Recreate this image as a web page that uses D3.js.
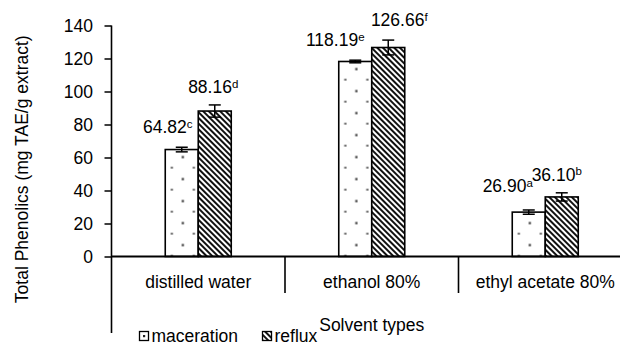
<!DOCTYPE html>
<html>
<head>
<meta charset="utf-8">
<script src="https://cdn.jsdelivr.net/npm/d3@7/dist/d3.min.js"></script>
<style>
  html, body { margin: 0; padding: 0; background: #fff; }
  svg { display: block; font-family: "Liberation Sans", Arial, sans-serif; }
</style>
</head>
<body>
<svg id="chart" width="620" height="344"></svg>
<script>
// Total phenolic content by solvent and extraction method
const categories = ["distilled water", "ethanol 80%", "ethyl acetate 80%"];
const series = ["maceration", "reflux"];
const maceration = [64.82, 118.19, 26.90];
const reflux = [88.16, 126.66, 36.10];
const macerationErr = [1.4, 0.8, 1.3];
const refluxErr = [3.7, 4.5, 2.5];
const macerationLetters = ["c", "e", "a"];
const refluxLetters = ["d", "f", "b"];
const yTicks = [0, 20, 40, 60, 80, 100, 120, 140];
const yTitle = "Total Phenolics (mg TAE/g extract)";
const xTitle = "Solvent types";

// Hand-placed label offsets (px) from each bar's centre / top
const labelOffsets = {
  maceration: [[-14, -16.5], [-20, -15], [-21, -20]],
  reflux: [[-1.5, -18], [11, -21.5], [-5, -16]]
};

const svg = d3.select("#chart");
const FONT = 17.5;
const y0 = 256.5;

const y = d3.scaleLinear().domain([0, 140]).range([y0, 25.5]);
const x0 = d3.scaleBand().domain(categories).range([111.5, 632]).paddingInner(0).paddingOuter(0);
const groupW = 66;
const x1 = d3.scaleBand().domain(series).range([0, groupW]);

const rows = categories.map((c, i) => ({
  cat: c,
  bars: [
    { s: "maceration", v: maceration[i], e: macerationErr[i], sup: macerationLetters[i], off: labelOffsets.maceration[i] },
    { s: "reflux", v: reflux[i], e: refluxErr[i], sup: refluxLetters[i], off: labelOffsets.reflux[i] }
  ]
}));
const barLeft = (c, s) => x0(c) + (x0.bandwidth() - groupW) / 2 + x1(s);

// Patterns
const defs = svg.append("defs");
// dotted fill, anchored to each bar's left edge and the baseline
rows.forEach((r, i) => {
  const p = defs.append("pattern")
    .attr("id", "dots" + i)
    .attr("patternUnits", "userSpaceOnUse")
    .attr("x", barLeft(r.cat, "maceration"))
    .attr("y", y0)
    .attr("width", 22).attr("height", 22);
  p.append("rect").attr("width", 22).attr("height", 22).attr("fill", "#fff");
  [[5.5, 20.5], [16.5, 9.5]].forEach(([dx, dy]) => {
    p.append("rect").attr("x", dx).attr("y", dy).attr("width", 2.2).attr("height", 2.2).attr("fill", "#333");
  });
});
const hatch = defs.append("pattern")
  .attr("id", "hatch")
  .attr("patternUnits", "userSpaceOnUse")
  .attr("width", 4).attr("height", 4)
  .attr("patternTransform", "rotate(-45)");
hatch.append("rect").attr("width", 4).attr("height", 4).attr("fill", "#fff");
hatch.append("rect").attr("width", 2).attr("height", 4).attr("fill", "#111");

const legendDots = defs.append("pattern")
  .attr("id", "legendDots")
  .attr("patternUnits", "userSpaceOnUse")
  .attr("x", 139).attr("y", 331)
  .attr("width", 10).attr("height", 10);
legendDots.append("rect").attr("width", 10).attr("height", 10).attr("fill", "#fff");
legendDots.append("rect").attr("x", 4).attr("y", 4).attr("width", 2.2).attr("height", 2.2).attr("fill", "#222");

const fillFor = (s, i) => s === "maceration" ? `url(#dots${i})` : "url(#hatch)";

// Bars
const groups = svg.append("g").selectAll("g").data(rows).join("g");
groups.each(function (r, i) {
  const g = d3.select(this);
  r.bars.forEach(b => {
    const bx = barLeft(r.cat, b.s);
    const bw = x1.bandwidth();
    g.append("rect")
      .attr("x", bx).attr("y", y(b.v))
      .attr("width", bw).attr("height", y0 - y(b.v))
      .attr("fill", fillFor(b.s, i))
      .attr("stroke", "#000").attr("stroke-width", 1.6);
    const cx = bx + bw / 2;
    const eb = g.append("g").attr("stroke", "#000").attr("stroke-width", 1.5);
    eb.append("line").attr("x1", cx).attr("x2", cx).attr("y1", y(b.v + b.e)).attr("y2", y(b.v - b.e));
    eb.append("line").attr("x1", cx - 6).attr("x2", cx + 6).attr("y1", y(b.v + b.e)).attr("y2", y(b.v + b.e));
    eb.append("line").attr("x1", cx - 6).attr("x2", cx + 6).attr("y1", y(b.v - b.e)).attr("y2", y(b.v - b.e));
    const t = g.append("text")
      .attr("x", cx + b.off[0]).attr("y", y(b.v) + b.off[1])
      .attr("text-anchor", "middle")
      .attr("font-size", FONT).attr("fill", "#000");
    t.append("tspan").text(b.v.toFixed(2));
    t.append("tspan").attr("font-size", 11.5).attr("dy", -5.5).text(b.sup);
  });
});

// Y axis
const yAxis = d3.axisLeft(y).tickValues(yTicks).tickSize(7).tickSizeOuter(0).tickPadding(11.5);
const gy = svg.append("g").attr("transform", "translate(111.5,0)").call(yAxis);
gy.select(".domain").remove();
gy.selectAll(".tick line").attr("stroke", "#000").attr("stroke-width", 1.5);
gy.selectAll(".tick text").attr("font-size", FONT).attr("font-family", "Liberation Sans, Arial, sans-serif").attr("fill", "#000").attr("dy", "0.36em");

// axis lines
svg.append("line").attr("x1", 111.5).attr("x2", 111.5).attr("y1", y(140)).attr("y2", 333)
  .attr("stroke", "#000").attr("stroke-width", 1.6);
svg.append("line").attr("x1", 111.5).attr("x2", 632).attr("y1", y0).attr("y2", y0)
  .attr("stroke", "#000").attr("stroke-width", 1.8);

// X axis labels and category separators
const xAxis = d3.axisBottom(x0).tickSize(0).tickPadding(19);
const gx = svg.append("g").attr("transform", `translate(0,${y0})`).call(xAxis);
gx.select(".domain").remove();
gx.selectAll(".tick text").attr("font-size", FONT).attr("font-family", "Liberation Sans, Arial, sans-serif").attr("fill", "#000");
svg.append("g").selectAll("line").data(categories.slice(1).concat(["end"])).join("line")
  .attr("x1", d => d === "end" ? x0.range()[1] : x0(d))
  .attr("x2", d => d === "end" ? x0.range()[1] : x0(d))
  .attr("y1", y0).attr("y2", y0 + 36.5)
  .attr("stroke", "#000").attr("stroke-width", 1.6);

// Titles
svg.append("text")
  .attr("transform", `translate(28,${(y(140) + 333) / 2 - 10}) rotate(-90)`)
  .attr("text-anchor", "middle").attr("font-size", FONT).attr("fill", "#000")
  .text(yTitle);
svg.append("text")
  .attr("x", (111.5 + 632) / 2).attr("y", 331)
  .attr("text-anchor", "middle").attr("font-size", FONT).attr("fill", "#000")
  .text(xTitle);

// Legend
const legend = svg.append("g");
const legendItems = [
  { s: series[0], x: 139, fill: "url(#legendDots)" },
  { s: series[1], x: 262, fill: "url(#hatch)" }
];
legendItems.forEach(it => {
  legend.append("rect").attr("x", it.x + 0.5).attr("y", 331.5).attr("width", 9).attr("height", 9)
    .attr("fill", it.fill).attr("stroke", "#000").attr("stroke-width", 1.3);
  legend.append("text").attr("x", it.x + 12.5).attr("y", 341.5)
    .attr("font-size", FONT).attr("fill", "#000").text(it.s);
});
</script>
</body>
</html>
